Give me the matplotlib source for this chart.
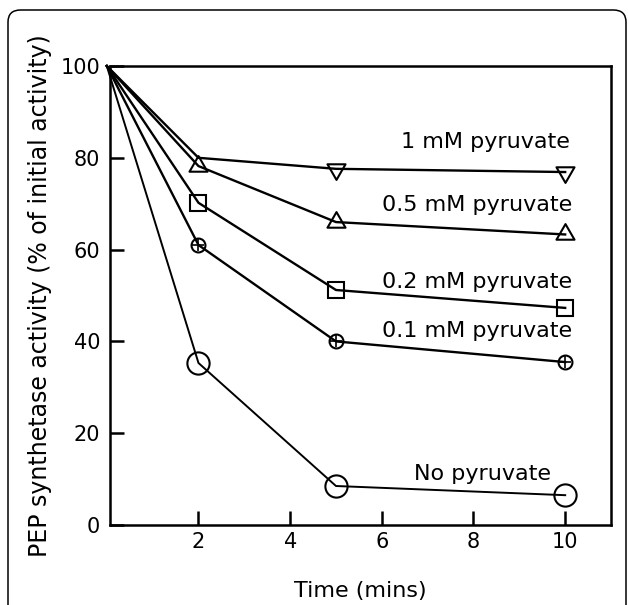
"""
  PEP synthetase inactivation over time at several pyruvate concentrations.
"""

import numpy as np
import matplotlib
matplotlib.use('Agg')
import matplotlib.pyplot as plt
from matplotlib.patches import FancyBboxPatch
from matplotlib.path import Path

# data
time = [0, 2, 5, 10]
no_pyr = [100, 35.3, 8.5, 6.5]
pyr_01 = [100, 61.0, 40.0, 35.5]
pyr_02 = [100, 70.2, 51.2, 47.3]
pyr_05 = [100, 78.2, 66.0, 63.3]
pyr_1 = [100, 80.0, 77.6, 76.9]
labels = ['No pyruvate', '0.1 mM pyruvate', '0.2 mM pyruvate',
          '0.5 mM pyruvate', '1 mM pyruvate']
xticks = [2, 4, 6, 8, 10]
yticks = [0, 20, 40, 60, 80, 100]

plt.rcParams['font.family'] = ['DejaVu Sans']

# equilateral triangle markers
tri_up = Path([(0, 1), (-0.866, -0.5), (0.866, -0.5), (0, 1)],
              [Path.MOVETO, Path.LINETO, Path.LINETO, Path.CLOSEPOLY])
tri_dn = Path([(0, -1), (-0.866, 0.5), (0.866, 0.5), (0, -1)],
              [Path.MOVETO, Path.LINETO, Path.LINETO, Path.CLOSEPOLY])

fig = plt.figure(figsize=(6.29, 6.05), dpi=100)

# rounded frame round the whole figure, open at the bottom
frame = FancyBboxPatch((8 / 629, -0.05), 618 / 629, 1 - 10 / 605 + 0.05,
                       boxstyle='round,pad=0,rounding_size=0.02',
                       transform=fig.transFigure, fill=False,
                       edgecolor='black', linewidth=1.1, clip_on=False)
fig.patches.append(frame)

ax = fig.add_axes([0.1749, 0.1322, 0.7965, 0.7587])

kw = dict(color='black', linewidth=1.7, markerfacecolor='none',
          markeredgecolor='black', markeredgewidth=1.5, clip_on=False)

# series
ax.plot(time, no_pyr, marker='o', markersize=16, markevery=[1, 2, 3],
        **{**kw, 'linewidth': 1.4})
ax.plot(time, pyr_01, marker='o', markersize=10, markevery=[1, 2, 3], **kw)
ax.plot(time[1:], pyr_01[1:], linestyle='none', marker='+', markersize=8,
        markeredgecolor='black', markeredgewidth=1.2, clip_on=False)
ax.plot(time, pyr_02, marker='s', markersize=11, markevery=[1, 2, 3], **kw)
ax.plot(time, pyr_05, marker=tri_up, markersize=15, markevery=[1, 2, 3], **kw)
ax.plot(time, pyr_1, marker=tri_dn, markersize=15, markevery=[2, 3], **kw)

# series labels
ax.text(10.1, 83.5, labels[4], ha='right', va='center', fontsize=16)
ax.text(10.15, 69.8, labels[3], ha='right', va='center', fontsize=16)
ax.text(10.15, 53.0, labels[2], ha='right', va='center', fontsize=16)
ax.text(10.15, 42.3, labels[1], ha='right', va='center', fontsize=16)
ax.text(9.7, 11.2, labels[0], ha='right', va='center', fontsize=16)

ax.set_xlim(0.07, 11.0)
ax.set_ylim(0, 100)
ax.set_xticks(xticks)
ax.set_yticks(yticks)
ax.tick_params(axis='both', direction='in', length=10, width=1.8,
               labelsize=15, colors='black')
ax.tick_params(axis='x', pad=5)
ax.tick_params(axis='y', pad=7)
for sp in ax.spines.values():
    sp.set_linewidth(1.8)

ax.set_xlabel('Time (mins)', fontsize=16, labelpad=21)
ax.set_ylabel('PEP synthetase activity (% of initial activity)',
              fontsize=17, labelpad=6)

fig.savefig('out.png', dpi=100)
